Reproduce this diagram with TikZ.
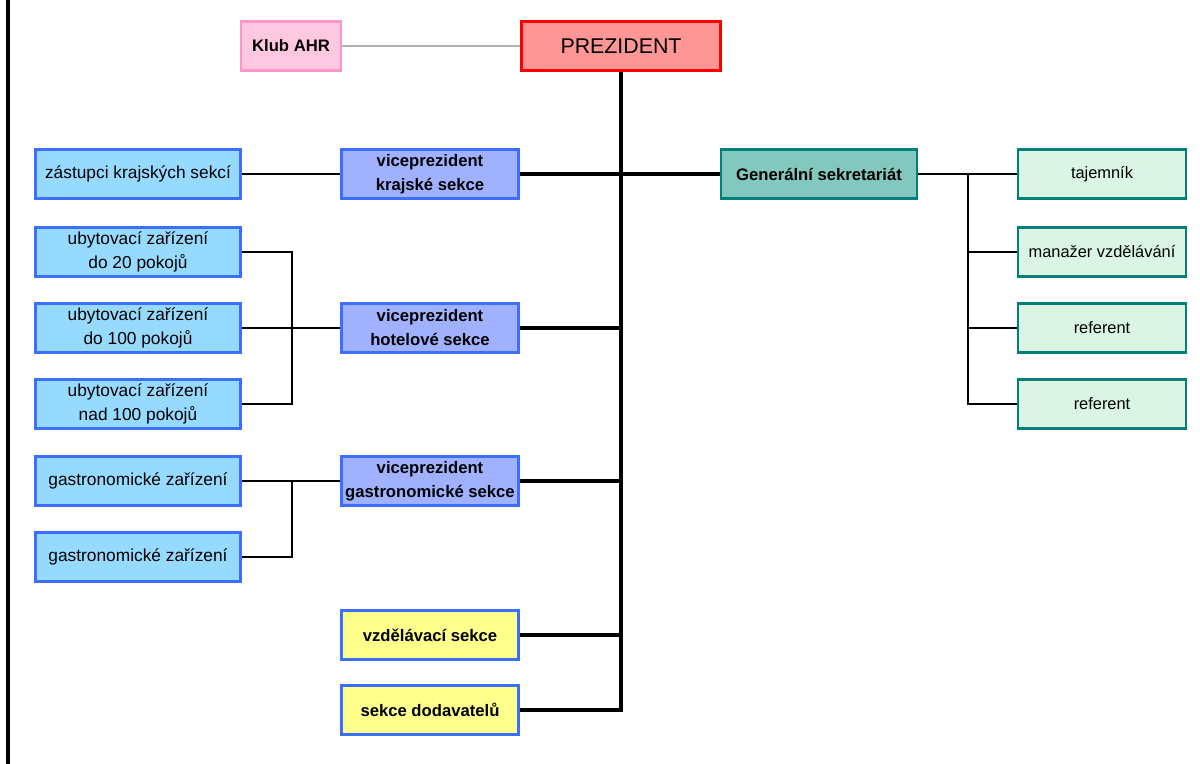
\documentclass[tikz,border=0pt]{standalone}
\usepackage{fontspec}
\setmainfont{Liberation Sans}
\definecolor{presline}{RGB}{255,0,0}
\definecolor{presfill}{RGB}{255,150,150}
\definecolor{klubline}{RGB}{255,150,200}
\definecolor{klubfill}{RGB}{255,200,225}
\definecolor{blueline}{RGB}{60,110,255}
\definecolor{cyanfill}{RGB}{150,218,255}
\definecolor{vpfill}{RGB}{160,178,255}
\definecolor{genline}{RGB}{0,128,120}
\definecolor{genfill}{RGB}{130,200,190}
\definecolor{stafffill}{RGB}{218,245,228}
\definecolor{yellowfill}{RGB}{255,255,140}
\begin{document}
\begin{tikzpicture}[x=0.75pt,y=-0.75pt,
    box/.style={draw, line width=2pt, inner sep=0pt, align=center, minimum height=37pt,
        font=\fontsize{13}{18}\selectfont},
    leftbox/.style={box, draw=blueline, fill=cyanfill, minimum width=154pt},
    vpbox/.style={box, draw=blueline, fill=vpfill, minimum width=133pt, font=\fontsize{12.5}{18}\selectfont\bfseries},
    yellowbox/.style={vpbox, fill=yellowfill},
    staffbox/.style={box, draw=genline, fill=stafffill, minimum width=126pt, font=\fontsize{12.3}{18}\selectfont},
    thin/.style={line width=1.1pt},
    trunk/.style={line width=2.3pt}]
    \useasboundingbox (0,0) rectangle (1200,764);
    \draw[line width=2.6pt] (8,0) -- (8,764);

    \node[box, draw=klubline, fill=klubfill, minimum width=75pt, font=\fontsize{12.5}{18}\selectfont\bfseries] (klub) at (291,46) {Klub AHR};
    \node[box, draw=presline, fill=presfill, minimum width=149pt, font=\fontsize{16}{18}\selectfont] (prez) at (621,46) {PREZIDENT};
    \coordinate (end) at (621,710);

    \node[leftbox] (zast) at (138,174) {zástupci krajských sekcí};
    \node[leftbox] (ub1) at (138,252) {ubytovací zařízení\\do 20 pokojů};
    \node[leftbox] (ub2) at (138,328) {ubytovací zařízení\\do 100 pokojů};
    \node[leftbox] (ub3) at (138,404) {ubytovací zařízení\\nad 100 pokojů};
    \node[leftbox] (g1) at (138,481) {gastronomické zařízení};
    \node[leftbox] (g2) at (138,557) {gastronomické zařízení};

    \node[vpbox] (vp1) at (430,174) {viceprezident\\krajské sekce};
    \node[vpbox] (vp2) at (430,328) {viceprezident\\hotelové sekce};
    \node[vpbox] (vp3) at (430,481) {viceprezident\\gastronomické sekce};
    \node[yellowbox] (vzd) at (430,635) {vzdělávací sekce};
    \node[yellowbox] (dod) at (430,710) {sekce dodavatelů};

    \node[box, draw=genline, fill=genfill, minimum width=147pt, font=\fontsize{12.5}{18}\selectfont\bfseries] (gen) at (819,174) {Generální sekretariát};
    \node[staffbox] (taj) at (1102,174) {tajemník};
    \node[staffbox] (man) at (1102,252) {manažer vzdělávání};
    \node[staffbox] (ref1) at (1102,328) {referent};
    \node[staffbox] (ref2) at (1102,404) {referent};

    \draw[gray!60, line width=0.8pt] (klub) -- (prez);
    \draw[trunk] (prez.south) -- (end) -- (dod.east);
    \draw[trunk] (vp1) -- (gen);
    \draw[trunk] (vp2.east) -- (vp2.east -| end);
    \draw[trunk] (vp3.east) -- (vp3.east -| end);
    \draw[trunk] (vzd.east) -- (vzd.east -| end);

    \draw[thin] (zast) -- (vp1);
    \draw[thin] (ub2) -- (vp2);
    \draw[thin] (ub1.east) -| (292,404) -- (ub3.east);
    \draw[thin] (g1) -- (vp3);
    \draw[thin] (g2.east) -| (292,481);

    \draw[thin] (gen) -- (taj);
    \draw[thin] (968,174) |- (ref2.west);
    \draw[thin] (968,252) -- (man.west);
    \draw[thin] (968,328) -- (ref1.west);
\end{tikzpicture}
\end{document}
